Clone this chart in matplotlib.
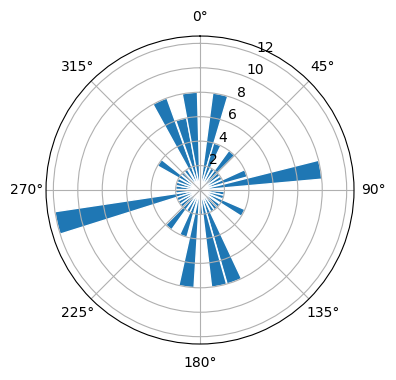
import numpy as np
import matplotlib
matplotlib.use("Agg")
import matplotlib.pyplot as plt

# bar centres (compass degrees, clockwise from north) and lengths
angles_deg = [335.7, 345.2, 354.0, 12.0, 20.7, 40.6, 70.0, 80.4, 118.0,
              159.4, 168.7, 188.0, 200.0, 220.0, 257.0, 304.0,
              98.0, 107.0, 130.0, 140.0, 149.0, 178.0, 209.0, 230.0, 239.0,
              248.0, 267.0, 276.0, 285.0, 294.0, 314.0, 324.0, 31.0, 50.0, 60.0]
radii = [8, 6, 8, 8, 4, 4, 4, 10, 4, 8, 8, 8, 4, 4, 12, 4,
         2, 2, 2, 2, 2, 2, 2, 2, 2, 2, 2, 2, 2, 2, 2, 2, 2, 2, 2]
width_deg = 9.0

fig = plt.figure(figsize=(3.96, 3.80), dpi=100)
ax = fig.add_axes([0.1162, 0.0947, 0.7778, 0.8105], projection="polar")
ax.set_theta_zero_location("N")
ax.set_theta_direction(-1)
ax.bar(np.deg2rad(angles_deg), radii, width=np.deg2rad(width_deg),
       color="#1f77b4", edgecolor="white", linewidth=1.0)
ax.grid(True)
fig.savefig("out.png", dpi=100)
